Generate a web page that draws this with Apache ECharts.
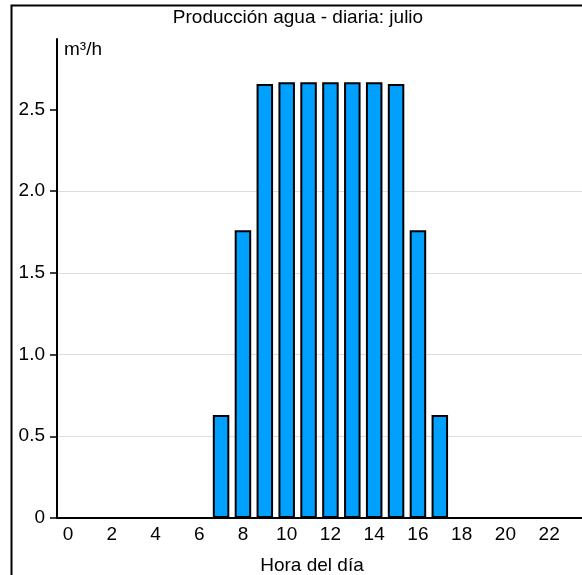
<!DOCTYPE html>
<html><head><meta charset="utf-8">
<script src="https://cdn.jsdelivr.net/npm/echarts@6/dist/echarts.min.js"></script>
<style>html,body{margin:0;padding:0;background:#fff}#c{width:582px;height:575px}</style>
</head><body><div id="c"></div>
<script>
var hours = ['0','1','2','3','4','5','6','7','8','9','10','11','12','13','14','15','16','17','18','19','20','21','22','23'];
var production = [0,0,0,0,0,0,0,0.63,1.76,2.655,2.665,2.665,2.665,2.665,2.665,2.655,1.76,0.63,0,0,0,0,0,0];
var yTicks = [0,0.5,1.0,1.5,2.0,2.5];
var titleText = 'Producción agua - diaria: julio';
var yName = 'm³/h';
var xName = 'Hora del día';

var chart = echarts.init(document.getElementById('c'), null, {renderer:'canvas'});
var font = 'Liberation Sans, Arial, sans-serif';
chart.setOption({
  animation:false,
  textStyle:{fontFamily:font},
  graphic:[
    {type:'rect', shape:{x:11.5,y:5.5,width:700,height:700}, style:{fill:'none',stroke:'#000',lineWidth:2}, silent:true, z:-1},
    {type:'text', x:298, y:18, style:{text:titleText, font:'19px '+font, fill:'#000', align:'center', verticalAlign:'middle'}},
    {type:'text', x:312, y:566, style:{text:xName, font:'19px '+font, fill:'#000', align:'center', verticalAlign:'middle'}}
  ],
  grid:{left:57, top:39, width:534, bottom:57, containLabel:false},
  xAxis:{type:'category', data:hours,
    axisLine:{lineStyle:{color:'#000',width:2}},
    axisTick:{show:false},
    axisLabel:{interval:1, color:'#000', fontSize:19, margin:7, fontFamily:font},
    splitLine:{show:false}},
  yAxis:{type:'value', min:0, max:2.93, interval:0.5,
    name:yName, nameLocation:'end', nameGap:-1,
    nameTextStyle:{align:'left', verticalAlign:'top', padding:[0,0,0,7], fontSize:19, color:'#000', fontFamily:font},
    axisLine:{show:true, lineStyle:{color:'#000',width:2}},
    axisTick:{show:true, length:7, customValues:yTicks, lineStyle:{color:'#000',width:1.5}},
    axisLabel:{color:'#000', fontSize:19, margin:12, fontFamily:font, customValues:yTicks,
      formatter:function(v){ return v===0 ? '0' : v.toFixed(1); }},
    splitLine:{show:true, showMaxLine:false, lineStyle:{color:'#ddd',width:1}}},
  series:[{type:'bar', data:production, barWidth:16.5,
    itemStyle:{color:'#00A0FF', borderColor:'#000', borderWidth:2}}]
});
</script></body></html>
